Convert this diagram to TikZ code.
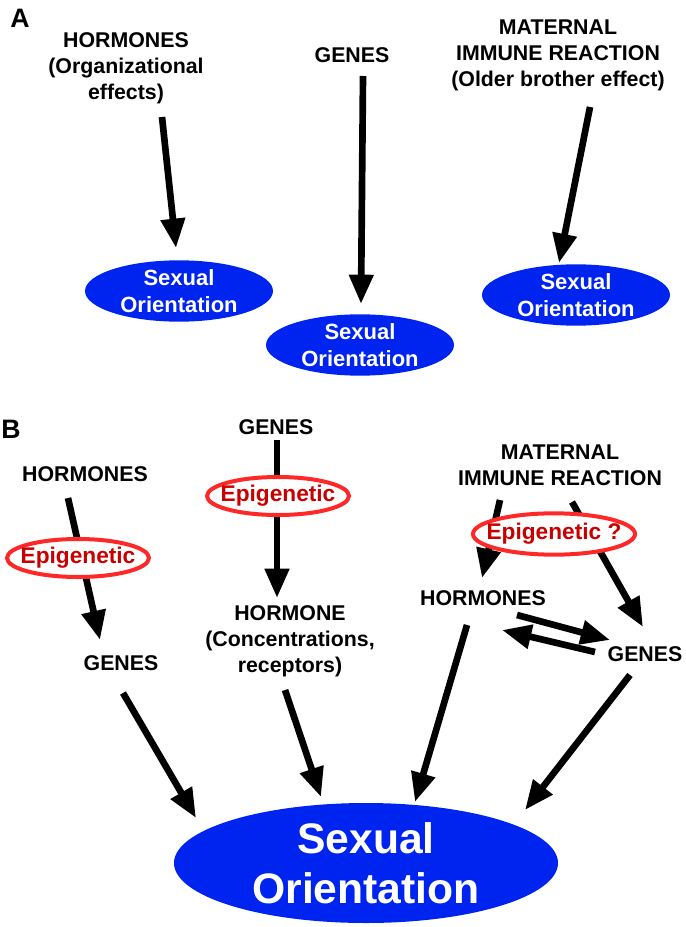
\documentclass[tikz,border=0pt]{standalone}
\usepackage{fontspec}
\setmainfont{Liberation Sans}
\usetikzlibrary{arrows.meta,shapes.geometric}
\definecolor{soblue}{RGB}{0,36,240}
\definecolor{epired}{RGB}{255,40,40}
\definecolor{epitext}{RGB}{200,0,0}
\tikzset{
  lbl/.style={font=\fontsize{16}{19.5}\selectfont\bfseries, align=center, inner sep=0pt},
  panel/.style={font=\fontsize{20}{20}\selectfont\bfseries, inner sep=0pt},
  so/.style={ellipse, fill=soblue, text=white, align=center, inner xsep=0pt, inner ysep=-2pt,
    minimum width=141pt, minimum height=46pt, font=\fontsize{16.5}{20}\selectfont\bfseries},
  big/.style={minimum width=288pt, minimum height=90pt, inner ysep=-6pt,
    font=\fontsize{32}{37.5}\selectfont\bfseries},
  epi/.style={ellipse, draw=epired, line width=3pt, fill=white, text=epitext, inner xsep=-9pt,
    inner ysep=0pt, minimum width=106.5pt, minimum height=28.5pt,
    font=\fontsize{17}{20}\selectfont\bfseries},
  arr/.style={line width=5pt, -{Triangle[width=17.5pt,length=22pt]}}
}
\begin{document}
\begin{tikzpicture}[x=0.75pt, y=-0.75pt]
  \useasboundingbox (0,0) rectangle (685,927);

  % Panel A: nodes
  \node[panel] (pA) at (20,18) {A};
  \node[lbl] (hA) at (126,68) {HORMONES\\(Organizational\\effects)};
  \node[lbl] (gA) at (352,55) {GENES};
  \node[lbl] (mA) at (558,55) {MATERNAL\\IMMUNE REACTION\\(Older brother effect)};
  \node[so] (sA1) at (179,291) {Sexual\\Orientation};
  \node[so] (sA2) at (360,345) {Sexual\\Orientation};
  \node[so] (sA3) at (576,295) {Sexual\\Orientation};

  % Panel A: arrows
  \draw[arr] ([shift={(36,49)}]hA.center) -- ([shift={(-3,-43)}]sA1.center);
  \draw[arr] ([shift={(11,21)}]gA.center) -- ([shift={(1,-41)}]sA2.center);
  \draw[arr] ([shift={(32,52)}]mA.center) -- ([shift={(-17,-32)}]sA3.center);

  % Panel B: nodes
  \node[panel] (pB) at (11,429) {B};
  \node[lbl] (hB1) at (85,474) {HORMONES};
  \node[lbl] (gB1) at (121,663) {GENES};
  \node[lbl] (gB2) at (276,427) {GENES};
  \node[lbl] (hB2) at (290,641) {HORMONE\\(Concentrations,\\receptors)};
  \node[lbl] (mB) at (560,465) {MATERNAL\\IMMUNE REACTION};
  \node[lbl] (hB3) at (483,598) {HORMONES};
  \node[lbl] (gB3) at (645,654) {GENES};
  \node[so, big] (sB) at (366,863) {Sexual\\Orientation};

  % Panel B: arrows
  \draw[arr] ([shift={(-17,24)}]hB1.center) -- ([shift={(-21,-23)}]gB1.center);
  \draw[arr] ([shift={(1,13)}]gB2.center) -- ([shift={(-13,-43)}]hB2.center);
  \draw[arr] ([shift={(-60,35)}]mB.center) -- ([shift={(-1,-20)}]hB3.center);
  \draw[arr] ([shift={(12,37)}]mB.center) -- ([shift={(-2,-27)}]gB3.center);
  \draw[arr] ([shift={(34,17)}]hB3.center) -- ([shift={(-35,-14)}]gB3.center);
  \draw[arr] ([shift={(-50,-2)}]gB3.center) -- ([shift={(19,32)}]hB3.center);
  \draw[arr] ([shift={(2,30)}]gB1.center) -- ([shift={(-170,-45)}]sB.center);
  \draw[arr] ([shift={(-5,49)}]hB2.center) -- ([shift={(-45,-66)}]sB.center);
  \draw[arr] ([shift={(-16,27)}]hB3.center) -- ([shift={(49,-61)}]sB.center);
  \draw[arr] ([shift={(-15,21)}]gB3.center) -- ([shift={(159,-53)}]sB.center);

  % Epigenetic marks, on top of the arrows
  \node[epi] (eB1) at (78,558) {Epigenetic};
  \node[epi] (eB2) at (278,496) {Epigenetic};
  \node[epi, minimum width=121.5pt, minimum height=31pt] (eB3) at (554,534) {Epigenetic ?};

\end{tikzpicture}
\end{document}
